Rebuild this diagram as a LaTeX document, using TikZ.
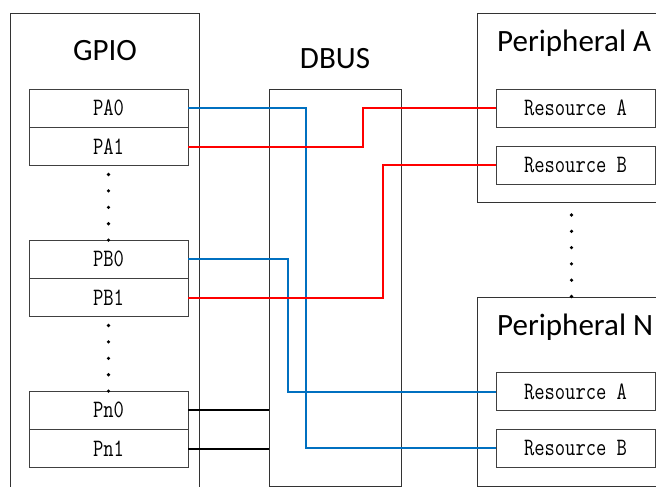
\documentclass[tikz,border=0pt]{standalone}
\usepackage{fontspec}
\usepackage{graphicx}
\newfontfamily\carlito{Carlito}
\usetikzlibrary{positioning}
\definecolor{busblue}{RGB}{0,112,192}
\definecolor{busred}{RGB}{255,0,0}
\newcommand{\narrow}[1]{\scalebox{0.8}[1]{#1}}

\begin{document}
\begin{tikzpicture}[x=1pt, y=-1pt,
    block/.style={draw=black!80, line width=0.9pt},
    title/.style={font=\carlito\fontsize{31}{31}\selectfont, inner sep=0pt},
    pin/.style={draw=black!75, line width=0.9pt, minimum width=159pt,
      minimum height=38pt, inner sep=0pt, font=\ttfamily\fontsize{25}{25}\selectfont},
    wire/.style={line width=2pt},
    dot/.style={circle, fill, inner sep=0pt, minimum size=3.6pt}]
  \useasboundingbox (0,0) rectangle (656,487);
  \clip (0,0) rectangle (656,487);

  % Outer blocks
  \draw[block] (10,13) rectangle (199,495);
  \draw[block] (269,89) rectangle (401,486);
  \draw[block] (477,13) rectangle (680,202);
  \draw[block] (477,297) rectangle (680,486);

  \node[title] (gpio) at (105,51) {GPIO};
  \node[title] (dbus) at (335,59) {DBUS};
  \node[title, anchor=west] (perA) at (497,43) {Peripheral A};
  \node[title, anchor=west] (perN) at (497,327) {Peripheral N};

  % GPIO pins
  \node[pin] (PA0) at (108.5,108) {\narrow{PA0}};
  \node[pin, below=0pt of PA0] (PA1) {\narrow{PA1}};
  \node[pin] (PB0) at (108.5,259) {\narrow{PB0}};
  \node[pin, below=0pt of PB0] (PB1) {\narrow{PB1}};
  \node[pin] (Pn0) at (108.5,410) {\narrow{Pn0}};
  \node[pin, below=0pt of Pn0] (Pn1) {\narrow{Pn1}};

  % Peripheral resources
  \node[pin] (resAA) at (575.5,108) {\narrow{Resource A}};
  \node[pin] (resAB) at (575.5,165) {\narrow{Resource B}};
  \node[pin] (resNA) at (575.5,391.5) {\narrow{Resource A}};
  \node[pin] (resNB) at (575.5,448) {\narrow{Resource B}};

  % Ellipsis dots
  \foreach \i in {0,...,4} {
    \node[dot] (gdotA\i) at (108.5,{174.5+16.4*\i}) {};
    \node[dot] (gdotB\i) at (108.5,{325.5+16.4*\i}) {};
  }
  \foreach \i in {0,...,5}
    \node[dot] (pdot\i) at (571.5,{215+16.3*\i}) {};

  % Bus wiring
  \draw[wire, busblue] (PA0.east) -- ([xshift=118pt]PA0.east) |- (resNB.west);
  \draw[wire, busred] (PA1.east) -- ([xshift=175pt]PA1.east) |- (resAA.west);
  \draw[wire, busblue] (PB0.east) -- ([xshift=100pt]PB0.east) |- (resNA.west);
  \draw[wire, busred] (PB1.east) -- ([xshift=195pt]PB1.east) |- (resAB.west);
  \draw[wire] (Pn0.east) -- (Pn0.east -| 269,0);
  \draw[wire] (Pn1.east) -- (Pn1.east -| 269,0);
\end{tikzpicture}
\end{document}
